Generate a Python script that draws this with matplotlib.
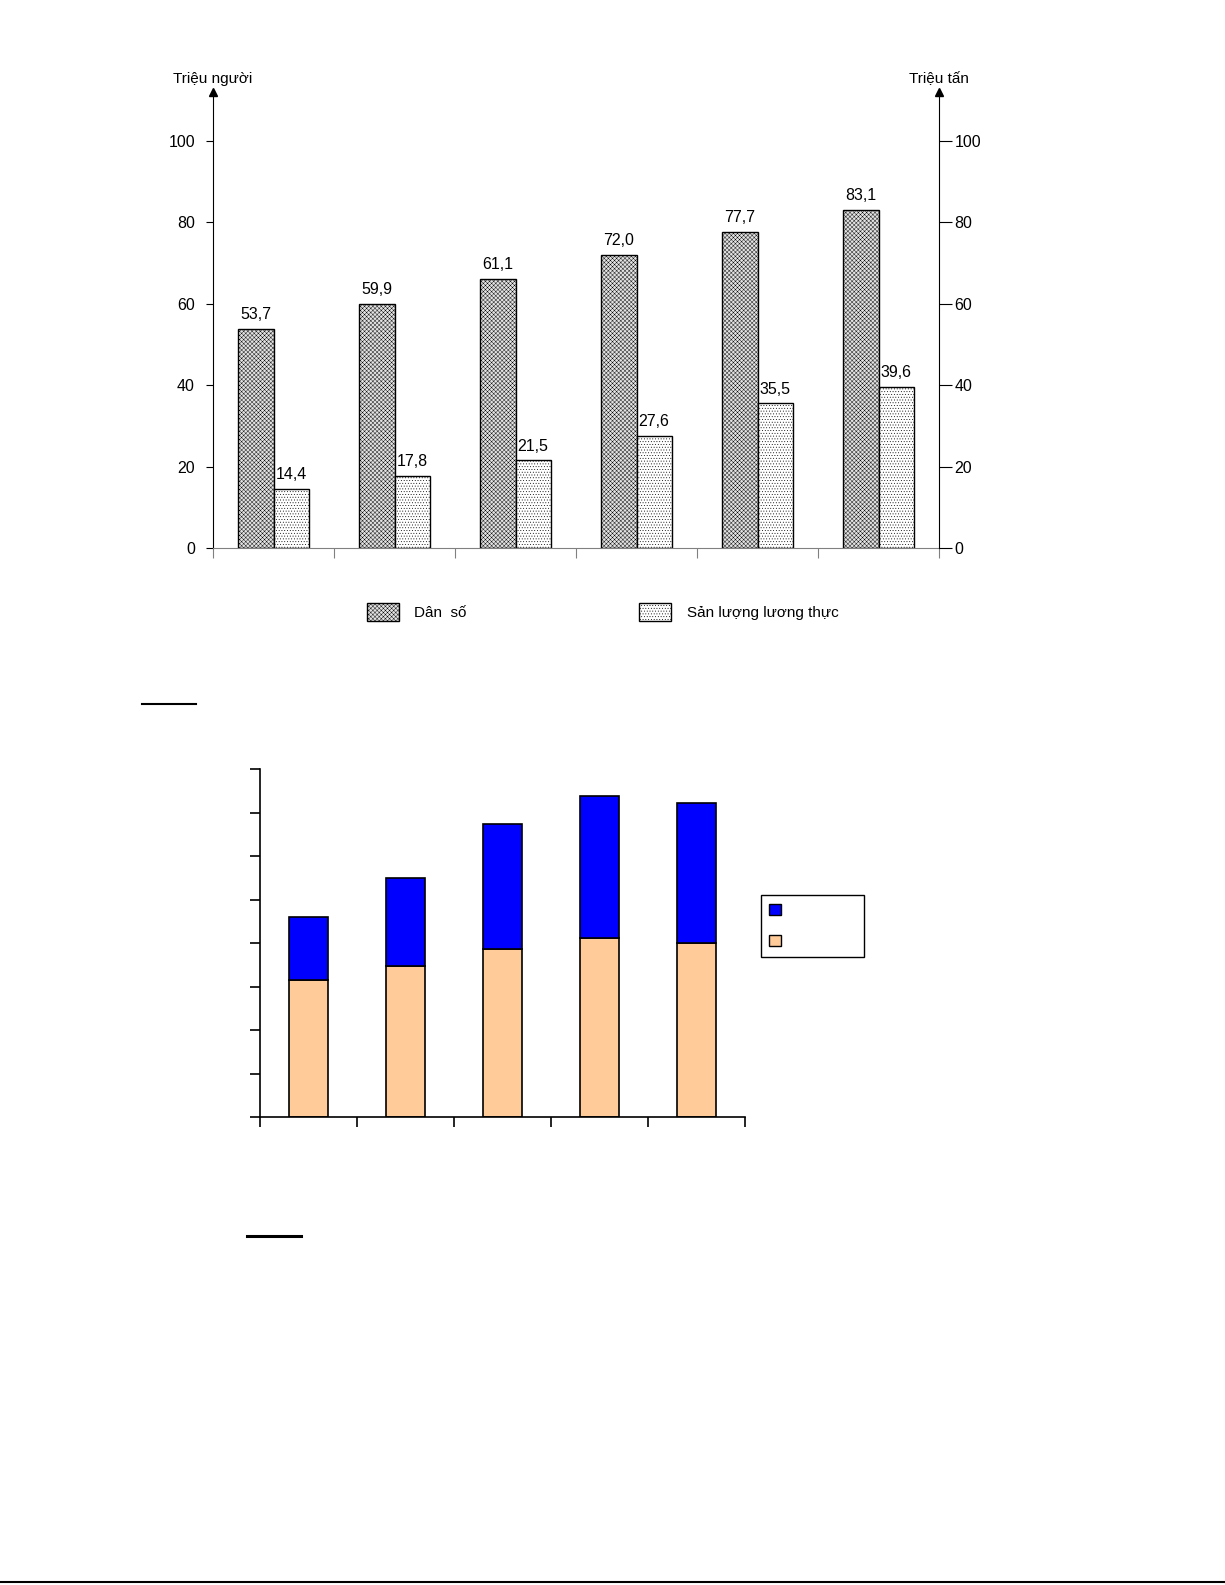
import matplotlib
matplotlib.use("Agg")
import matplotlib.pyplot as plt
from matplotlib.lines import Line2D
from matplotlib.patches import Patch

plt.rcParams['font.family'] = ['Liberation Sans', 'DejaVu Sans']
plt.rcParams['hatch.linewidth'] = 0.3

# top chart: population (left axis) and food output (right axis), 6 years
dan_so = [53.7, 59.9, 66.1, 72.0, 77.7, 83.1]          # heights as drawn
dan_so_labels = ['53,7', '59,9', '61,1', '72,0', '77,7', '83,1']
luong_thuc = [14.4, 17.8, 21.5, 27.6, 35.5, 39.6]
luong_thuc_labels = ['14,4', '17,8', '21,5', '27,6', '35,5', '39,6']
y_ticks = [0, 20, 40, 60, 80, 100]
legend_top = ['Dân  số', 'Sản lượng lương thực']

# bottom chart: stacked bars, no labels in the picture
lower_seg = [31.5, 34.8, 38.7, 41.1, 40.0]
upper_seg = [14.4, 20.2, 28.6, 32.6, 32.2]

W, H = 1225, 1585
fig = plt.figure(figsize=(W / 100, H / 100), dpi=100)


def fig_box(x0, y0, x1, y1):
    # pixel box (top-left origin) -> figure fraction
    return [x0 / W, 1 - y1 / H, (x1 - x0) / W, (y1 - y0) / H]


# ---------------- top chart ----------------
ax = fig.add_axes(fig_box(213, 92, 939, 548))
xs = list(range(len(dan_so)))
w = 0.29
pop_style = dict(facecolor='#e2e2e2', edgecolor='black', hatch='xxxxxxxx', linewidth=1)
food_style = dict(facecolor='white', edgecolor='black', hatch='......', linewidth=1)

b1 = ax.bar([x - w / 2 for x in xs], dan_so, w, **pop_style)
b2 = ax.bar([x + w / 2 for x in xs], luong_thuc, w, **food_style)
ax.bar_label(b1, labels=dan_so_labels, padding=5, fontsize=11.5)
ax.bar_label(b2, labels=luong_thuc_labels, padding=5, fontsize=11.5)

ax.set_xlim(-0.5, len(xs) - 0.5)
ax.set_ylim(0, 112)
ax.set_yticks(y_ticks)
ax.set_xticks([x - 0.5 for x in range(len(xs) + 1)])
ax.set_xticklabels([])
ax.tick_params(axis='y', direction='out', length=5, pad=8, labelsize=11.5)
ax.tick_params(axis='x', direction='out', length=7, color='#808080')
for s in ['top', 'right']:
    ax.spines[s].set_visible(False)
ax.spines['bottom'].set_color('#808080')

ax2 = ax.twinx()
ax2.set_ylim(0, 112)
ax2.set_yticks(y_ticks)
ax2.tick_params(axis='y', direction='out', length=9, pad=2, labelsize=11.5)
for s in ['top', 'left', 'bottom']:
    ax2.spines[s].set_visible(False)

# arrow heads on both value axes
ax.plot([0], [1], marker='^', color='black', markersize=6, transform=ax.transAxes, clip_on=False)
ax.plot([1], [1], marker='^', color='black', markersize=6, transform=ax.transAxes, clip_on=False)
ax.text(0, 1.0285, 'Triệu người', transform=ax.transAxes, ha='center', va='center', fontsize=11)
ax.text(1, 1.0285, 'Triệu tấn', transform=ax.transAxes, ha='center', va='center', fontsize=11)

fig.legend([Patch(**pop_style), Patch(**food_style)], legend_top,
           loc='center left', bbox_to_anchor=(367 / W, 1 - 612 / H), ncol=2,
           frameon=False, fontsize=11, handlelength=2.1, handleheight=1.5,
           handletextpad=1.0, columnspacing=11.3, borderpad=0, borderaxespad=0)

# ---------------- bottom chart ----------------
ax3 = fig.add_axes(fig_box(260, 769, 745, 1117))
xs3 = list(range(len(lower_seg)))
w3 = 0.41
ax3.bar(xs3, lower_seg, w3, color='#FFCC99', edgecolor='black', linewidth=1.2)
ax3.bar(xs3, upper_seg, w3, bottom=lower_seg, color='#0000FF', edgecolor='black', linewidth=1.2)
ax3.set_xlim(-0.5, len(xs3) - 0.5)
ax3.set_ylim(0, 80)
ax3.set_yticks(range(0, 81, 10))
ax3.set_xticks([x - 0.5 for x in range(len(xs3) + 1)])
ax3.set_xticklabels([])
ax3.set_yticklabels([])
ax3.tick_params(direction='out', length=7, width=1.2)
for s in ['top', 'right']:
    ax3.spines[s].set_visible(False)
for s in ['left', 'bottom']:
    ax3.spines[s].set_linewidth(1.2)

leg = ax3.legend([Patch(facecolor='#0000FF', edgecolor='black'),
                  Patch(facecolor='#FFCC99', edgecolor='black')], ['', ''],
                 loc='upper left', bbox_to_anchor=(761 / W, 1 - 895 / H, 103 / W, 0),
                 bbox_transform=fig.transFigure, mode='expand', borderaxespad=0,
                 fontsize=10, handlelength=0.86, handleheight=0.86, labelspacing=1.25,
                 borderpad=0.6, fancybox=False, framealpha=1)
leg.get_frame().set_edgecolor('black')
leg.get_frame().set_linewidth(1)

# short underlines and the page rule
fig.add_artist(Line2D([142 / W, 196 / W], [1 - 704 / H] * 2, color='black', lw=1.5))
fig.add_artist(Line2D([247 / W, 301 / W], [1 - 1236 / H] * 2, color='black', lw=2.2))
fig.add_artist(Line2D([0, 1], [1 - 1582 / H] * 2, color='black', lw=1.5))

fig.savefig('out.png', dpi=100)
